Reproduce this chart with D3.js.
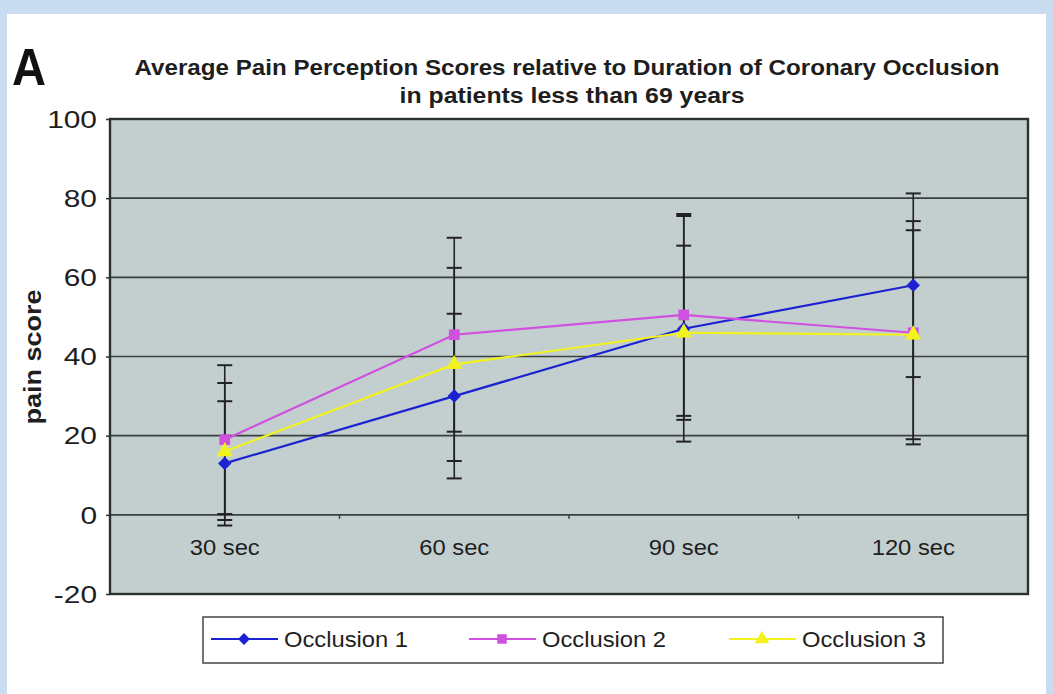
<!DOCTYPE html>
<html>
<head>
<meta charset="utf-8">
<script src="https://cdn.jsdelivr.net/npm/d3@7"></script>
<style>
	body { margin: 0; background: #fff; }
	svg { display: block; font-family: 'Liberation Sans', Arial, sans-serif; }
</style>
</head>
<body>
<svg id="svg"></svg>
<script>
// chart data
const categories = ['30 sec', '60 sec', '90 sec', '120 sec'];
const yTicks = [-20, 0, 20, 40, 60, 80, 100];
const occlusion1 = [13, 30, 47, 58];
const occlusion2 = [19, 45.5, 50.5, 46];
const occlusion3 = [16, 38, 46, 45.5];
const sd1 = [15.7, 20.8, 28.5, 23.2];
const sd2 = [18.8, 24.5, 25.5, 28.2];
const sd3 = [17.3, 24.4, 22, 26.4];
const seriesNames = ['Occlusion 1', 'Occlusion 2', 'Occlusion 3'];

const series = [
	{ name: seriesNames[0], values: occlusion1, sd: sd1, color: '#1c22d0', marker: d3.symbolDiamond2 },
	{ name: seriesNames[1], values: occlusion2, sd: sd2, color: '#d050e0', marker: d3.symbolSquare },
	{ name: seriesNames[2], values: occlusion3, sd: sd3, color: '#f2f21e', marker: d3.symbolTriangle }
];

const width = 1053;
const height = 694;
const plot = { left: 110, right: 1028, top: 119, bottom: 594 };
const textColor = '#1e1e1e';

const svg = d3.select('#svg').attr('width', width).attr('height', height);

// light blue frame around the figure
svg.append('rect').attr('width', width).attr('height', height).attr('fill', '#c9dcf0');
svg.append('rect')
	.attr('x', 7).attr('y', 14)
	.attr('width', width - 14).attr('height', height - 14)
	.attr('fill', '#fff');

const x = d3.scaleBand()
	.domain(categories)
	.range([plot.left, plot.right]);

const y = d3.scaleLinear()
	.domain([-20, 100])
	.range([plot.bottom, plot.top]);

// plot area background
svg.append('rect')
	.attr('x', plot.left).attr('y', plot.top)
	.attr('width', plot.right - plot.left).attr('height', plot.bottom - plot.top)
	.attr('fill', '#c3cfcf');

// horizontal gridlines
svg.append('g')
	.selectAll('line')
	.data(yTicks.filter(t => t > -20 && t < 100))
	.enter()
	.append('line')
	.attr('x1', plot.left).attr('x2', plot.right)
	.attr('y1', d => y(d)).attr('y2', d => y(d))
	.attr('stroke', '#3a3f3f')
	.attr('stroke-width', 1.6);

// category boundary ticks on the zero line
svg.append('g')
	.selectAll('line')
	.data(categories.slice(1))
	.enter()
	.append('line')
	.attr('x1', d => x(d)).attr('x2', d => x(d))
	.attr('y1', y(0)).attr('y2', y(0) + 4)
	.attr('stroke', '#3a3f3f')
	.attr('stroke-width', 1.5);

// plot border
svg.append('rect')
	.attr('x', plot.left).attr('y', plot.top)
	.attr('width', plot.right - plot.left).attr('height', plot.bottom - plot.top)
	.attr('fill', 'none')
	.attr('stroke', '#2b3030')
	.attr('stroke-width', 2.4);

// y axis (labels are drawn a bit wide, like the source image)
const yAxis = svg.append('g')
	.attr('transform', `translate(${plot.left},0)`)
	.call(d3.axisLeft(y).tickValues(yTicks).tickSize(4).tickPadding(9).tickFormat(d => String(d)));
yAxis.select('.domain').remove();
yAxis.selectAll('line').attr('stroke', '#2b3030').attr('stroke-width', 1.5);
yAxis.selectAll('text')
	.attr('font-size', 23)
	.attr('fill', textColor)
	.attr('font-family', "'Liberation Sans', Arial, sans-serif")
	.attr('x', 0)
	.attr('dy', '0.36em')
	.attr('transform', 'translate(-13,0) scale(1.3,1)');

// x labels
svg.append('g')
	.selectAll('text')
	.data(categories)
	.enter()
	.append('text')
	.attr('transform', d => `translate(${x(d) + x.bandwidth() / 2},555) scale(1.08,1)`)
	.attr('text-anchor', 'middle')
	.attr('font-size', 22)
	.attr('fill', textColor)
	.text(d => d);

// error bars
const cx = (i) => x(categories[i]) + x.bandwidth() / 2;
series.forEach(s => {
	const g = svg.append('g');
	s.values.forEach((v, i) => {
		const lo = y(v - s.sd[i]);
		const hi = y(v + s.sd[i]);
		g.append('line')
			.attr('x1', cx(i)).attr('x2', cx(i))
			.attr('y1', lo).attr('y2', hi)
			.attr('stroke', '#222').attr('stroke-width', 1.6);
		[lo, hi].forEach(yy => {
			g.append('line')
				.attr('x1', cx(i) - 7.5).attr('x2', cx(i) + 7.5)
				.attr('y1', yy).attr('y2', yy)
				.attr('stroke', '#222').attr('stroke-width', 2);
		});
	});
});

// series lines and markers
const line = d3.line()
	.x((d, i) => cx(i))
	.y(d => y(d));

series.forEach(s => {
	svg.append('path')
		.datum(s.values)
		.attr('d', line)
		.attr('fill', 'none')
		.attr('stroke', s.color)
		.attr('stroke-width', 2.2);

	svg.append('g')
		.selectAll('path')
		.data(s.values)
		.enter()
		.append('path')
		.attr('d', d3.symbol().type(s.marker).size(115))
		.attr('transform', (d, i) => `translate(${cx(i)},${y(d)})`)
		.attr('fill', s.color);
});

// titles
svg.append('text')
	.attr('x', 12).attr('y', 85)
	.attr('font-size', 52)
	.attr('font-weight', 'bold')
	.attr('textLength', 34)
	.attr('lengthAdjust', 'spacingAndGlyphs')
	.attr('fill', '#111')
	.text('A');

svg.append('text')
	.attr('x', 567).attr('y', 75)
	.attr('text-anchor', 'middle')
	.attr('font-size', 22)
	.attr('font-weight', 'bold')
	.attr('textLength', 865)
	.attr('lengthAdjust', 'spacingAndGlyphs')
	.attr('fill', textColor)
	.text('Average Pain Perception Scores relative to Duration of Coronary Occlusion');

svg.append('text')
	.attr('x', 572).attr('y', 103)
	.attr('text-anchor', 'middle')
	.attr('font-size', 22)
	.attr('font-weight', 'bold')
	.attr('textLength', 345)
	.attr('lengthAdjust', 'spacingAndGlyphs')
	.attr('fill', textColor)
	.text('in patients less than 69 years');

svg.append('text')
	.attr('transform', 'translate(41,357) rotate(-90)')
	.attr('text-anchor', 'middle')
	.attr('font-size', 24)
	.attr('font-weight', 'bold')
	.attr('textLength', 135)
	.attr('lengthAdjust', 'spacingAndGlyphs')
	.attr('fill', textColor)
	.text('pain score');

// legend
const legend = svg.append('g');
legend.append('rect')
	.attr('x', 203).attr('y', 617)
	.attr('width', 740).attr('height', 46)
	.attr('fill', '#fff')
	.attr('stroke', '#444')
	.attr('stroke-width', 1.5);

const legendX = [211, 469, 729];
series.forEach((s, i) => {
	const lx = legendX[i];
	legend.append('line')
		.attr('x1', lx).attr('x2', lx + 67)
		.attr('y1', 639).attr('y2', 639)
		.attr('stroke', s.color)
		.attr('stroke-width', 2.2);
	legend.append('path')
		.attr('d', d3.symbol().type(s.marker).size(90))
		.attr('transform', `translate(${lx + 33},639)`)
		.attr('fill', s.color);
	legend.append('text')
		.attr('transform', `translate(${lx + 73},647) scale(1.08,1)`)
		.attr('font-size', 22)
		.attr('fill', textColor)
		.text(s.name);
});
</script>
</body>
</html>
